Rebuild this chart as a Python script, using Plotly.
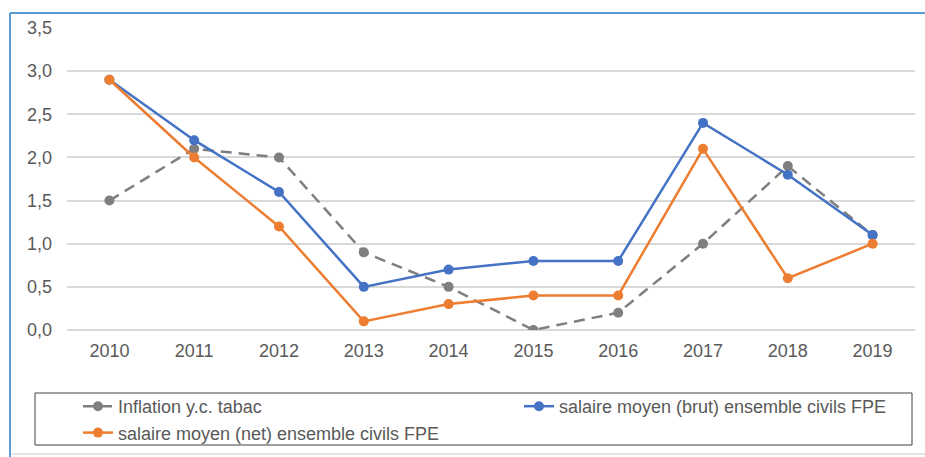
import plotly.graph_objects as go

years = ["2010", "2011", "2012", "2013", "2014", "2015", "2016", "2017", "2018", "2019"]
inflation = [1.5, 2.1, 2.0, 0.9, 0.5, 0.0, 0.2, 1.0, 1.9, 1.1]
brut = [2.9, 2.2, 1.6, 0.5, 0.7, 0.8, 0.8, 2.4, 1.8, 1.1]
net = [2.9, 2.0, 1.2, 0.1, 0.3, 0.4, 0.4, 2.1, 0.6, 1.0]
y_ticks = [0, 0.5, 1.0, 1.5, 2.0, 2.5, 3.0, 3.5]
y_labels = ["0,0", "0,5", "1,0", "1,5", "2,0", "2,5", "3,0", "3,5"]

W, H = 925, 457
L, R, T, B = 67, 10, 28, 127
PW, PH = W - L - R, H - T - B


def px(x):
    return (x - L) / PW


def py(y):
    return (H - B - y) / PH


fig = go.Figure()
fig.add_trace(go.Scatter(
    x=years, y=inflation, name="Inflation y.c. tabac", mode="lines+markers",
    line=dict(color="#7F7F7F", width=2.5, dash="11px,7px"),
    marker=dict(size=10, color="#7F7F7F"), legend="legend"))
fig.add_trace(go.Scatter(
    x=years, y=brut, name="salaire moyen (brut) ensemble civils FPE", mode="lines+markers",
    line=dict(color="#4472C4", width=2.5),
    marker=dict(size=10, color="#4472C4"), legend="legend2"))
fig.add_trace(go.Scatter(
    x=years, y=net, name="salaire moyen (net) ensemble civils FPE", mode="lines+markers",
    line=dict(color="#ED7D31", width=2.5),
    marker=dict(size=10, color="#ED7D31"), legend="legend"))

shapes = [
    # legend box
    dict(type="rect", xref="paper", yref="paper", x0=px(35), x1=px(912), y0=py(445), y1=py(393),
         line=dict(color="#404040", width=1), fillcolor="rgba(0,0,0,0)", layer="below"),
    # outer frame
    dict(type="line", xref="paper", yref="paper", x0=px(10), x1=px(10), y0=py(13), y1=py(457),
         line=dict(color="#5B9BD5", width=2)),
    dict(type="line", xref="paper", yref="paper", x0=px(10), x1=px(925), y0=py(13), y1=py(13),
         line=dict(color="#5B9BD5", width=2)),
    dict(type="line", xref="paper", yref="paper", x0=px(12), x1=px(925), y0=py(454), y1=py(454),
         line=dict(color="#D9D9D9", width=1.5)),
]

legend_common = dict(orientation="v", xanchor="left", yanchor="top",
                     font=dict(size=18, color="#595959"),
                     bgcolor="rgba(0,0,0,0)", borderwidth=0, traceorder="normal")

fig.update_layout(
    width=W, height=H,
    margin=dict(l=L, r=R, t=T, b=B, autoexpand=False),
    paper_bgcolor="white", plot_bgcolor="white",
    font=dict(family="Liberation Sans, Arial, sans-serif", size=18, color="#595959"),
    showlegend=True,
    legend=dict(x=px(78), y=py(388), **legend_common),
    legend2=dict(x=px(519), y=py(388), **legend_common),
    shapes=shapes,
)
fig.update_xaxes(type="category", range=[-0.5, 9.5], showgrid=False, showline=False,
                 ticks="", ticklabelstandoff=8, tickfont=dict(size=18, color="#595959"))
fig.update_yaxes(range=[0, 3.5], tickvals=y_ticks, ticktext=y_labels, showgrid=True,
                 gridcolor="#D9D9D9", gridwidth=1.5, zeroline=True, zerolinecolor="#D9D9D9",
                 zerolinewidth=1.5, showline=False, ticks="", ticklabelstandoff=14,
                 tickfont=dict(size=18, color="#595959"))

fig.write_html("out.html", config={"displayModeBar": False},
               post_script="document.body.style.margin='0';")
